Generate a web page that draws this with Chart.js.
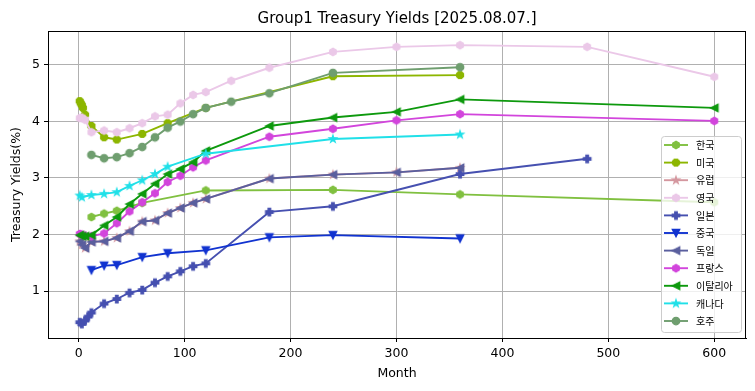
<!DOCTYPE html>
<html>
<head>
<meta charset="utf-8">
<script src="https://cdn.jsdelivr.net/npm/chart.js@4.4.1/dist/chart.umd.min.js"></script>
<style>
    html, body { margin: 0; padding: 0; background: #fff; }
    #chart { display: block; }
</style>
</head>
<body>
<canvas id="chart" width="755" height="391"></canvas>
<script>
// Data (months to maturity, yields in %)
const seriesNames = ["한국", "미국", "유럽", "영국", "일본", "중국", "독일", "프랑스", "이탈리아", "캐나다", "호주"];

const krMonths = [12, 24, 36, 60, 120, 240, 360, 600];
const krYields = [2.31, 2.37, 2.42, 2.56, 2.78, 2.79, 2.71, 2.57];

const usMonths = [1, 2, 3, 4, 6, 12, 24, 36, 60, 84, 120, 240, 360];
const usYields = [4.36, 4.32, 4.29, 4.24, 4.12, 3.92, 3.72, 3.68, 3.78, 3.97, 4.24, 4.80, 4.82];

const euMonths = [1, 3, 6, 12, 24, 36, 48, 60, 72, 84, 96, 108, 120, 180, 240, 300, 360];
const euYields = [1.88, 1.82, 1.76, 1.87, 1.88, 1.94, 2.06, 2.23, 2.25, 2.38, 2.47, 2.56, 2.63, 2.99, 3.06, 3.10, 3.18];

const ukMonths = [1, 3, 6, 12, 24, 36, 48, 60, 72, 84, 96, 108, 120, 144, 180, 240, 300, 360, 480, 600];
const ukYields = [4.06, 4.07, 4.03, 3.81, 3.84, 3.81, 3.88, 3.97, 4.09, 4.12, 4.32, 4.47, 4.52, 4.72, 4.95, 5.23, 5.32, 5.35, 5.32, 4.79];

const jpMonths = [1, 3, 6, 9, 12, 24, 36, 48, 60, 72, 84, 96, 108, 120, 180, 240, 360, 480];
const jpYields = [0.45, 0.42, 0.48, 0.55, 0.62, 0.78, 0.86, 0.97, 1.02, 1.15, 1.26, 1.35, 1.44, 1.49, 2.40, 2.50, 3.07, 3.34];

const cnMonths = [12, 24, 36, 60, 84, 120, 180, 240, 360];
const cnYields = [1.37, 1.45, 1.46, 1.60, 1.67, 1.72, 1.95, 1.99, 1.93];

const deMonths = [1, 3, 6, 12, 24, 36, 48, 60, 72, 84, 96, 108, 120, 180, 240, 300, 360];
const deYields = [1.88, 1.82, 1.76, 1.87, 1.88, 1.94, 2.06, 2.23, 2.25, 2.38, 2.47, 2.56, 2.63, 2.99, 3.06, 3.10, 3.18];

const frMonths = [1, 3, 6, 12, 24, 36, 48, 60, 72, 84, 96, 108, 120, 180, 240, 300, 360, 600];
const frYields = [2.01, 2.00, 1.98, 1.97, 2.02, 2.20, 2.41, 2.57, 2.73, 2.93, 3.04, 3.19, 3.31, 3.73, 3.87, 4.02, 4.13, 4.01];

const itMonths = [1, 3, 6, 12, 24, 36, 48, 60, 72, 84, 96, 108, 120, 180, 240, 300, 360, 600];
const itYields = [1.99, 1.97, 1.97, 1.99, 2.16, 2.31, 2.54, 2.72, 2.90, 3.07, 3.16, 3.28, 3.48, 3.92, 4.07, 4.17, 4.39, 4.24];

const caMonths = [1, 3, 12, 24, 36, 48, 60, 72, 84, 120, 240, 360];
const caYields = [2.69, 2.66, 2.70, 2.72, 2.75, 2.86, 2.96, 3.07, 3.20, 3.43, 3.69, 3.77];

const auMonths = [12, 24, 36, 48, 60, 72, 84, 96, 108, 120, 144, 180, 240, 360];
const auYields = [3.41, 3.35, 3.37, 3.44, 3.55, 3.72, 3.89, 4.00, 4.13, 4.24, 4.35, 4.50, 4.86, 4.96];

const xTicks = [0, 100, 200, 300, 400, 500, 600];
const yTicks = [1, 2, 3, 4, 5];

// Styles
const seriesMonths = [krMonths, usMonths, euMonths, ukMonths, jpMonths, cnMonths, deMonths, frMonths, itMonths, caMonths, auMonths];
const seriesYields = [krYields, usYields, euYields, ukYields, jpYields, cnYields, deYields, frYields, itYields, caYields, auYields];
const colors = ["#80c040", "#8db600", "#d4979f", "#ebc8e8", "#4650b0", "#1133d0", "#5a5f9e", "#d245dc", "#0d990d", "#20e0e8", "#6f9e6f"];
const markers = ["h", "8", "*", "h", "P", "v", "<", "h", "<", "*", "o"];

const MARKER_SIZE = 7.5;
const EDGE_WIDTH = 1.25;
const LINE_WIDTH = 1.9;
const FONT = "'DejaVu Sans', sans-serif";

function polygon(g, pts) {
    g.moveTo(pts[0][0], pts[0][1]);
    for (let i = 1; i < pts.length; i++) g.lineTo(pts[i][0], pts[i][1]);
    g.closePath();
}

// matplotlib-like filled markers as small canvases
function markerImage(shape, color) {
    const size = 14;
    const c = document.createElement("canvas");
    c.width = size;
    c.height = size;
    const g = c.getContext("2d");
    g.translate(size / 2, size / 2);
    const r = MARKER_SIZE / 2;
    g.beginPath();
    if (shape === "o") {
        g.arc(0, 0, r, 0, Math.PI * 2);
    } else if (shape === "h" || shape === "8") {
        const n = shape === "h" ? 6 : 8;
        const start = shape === "h" ? 90 : 90 + 22.5;
        const pts = [];
        for (let k = 0; k < n; k++) {
            const a = (start + k * 360 / n) * Math.PI / 180;
            pts.push([r * Math.cos(a), -r * Math.sin(a)]);
        }
        polygon(g, pts);
    } else if (shape === "*") {
        const pts = [];
        for (let k = 0; k < 10; k++) {
            const a = (90 + k * 36) * Math.PI / 180;
            const rr = k % 2 === 0 ? r : r * 0.381966;
            pts.push([rr * Math.cos(a), -rr * Math.sin(a)]);
        }
        polygon(g, pts);
    } else if (shape === "P") {
        const u = MARKER_SIZE / 6;
        polygon(g, [[-u, -3 * u], [u, -3 * u], [u, -u], [3 * u, -u], [3 * u, u], [u, u],
            [u, 3 * u], [-u, 3 * u], [-u, u], [-3 * u, u], [-3 * u, -u], [-u, -u]]);
    } else if (shape === "v") {
        polygon(g, [[0, r], [-r, -r], [r, -r]]);
    } else if (shape === "<") {
        polygon(g, [[-r, 0], [r, -r], [r, r]]);
    }
    g.fillStyle = color;
    g.fill();
    g.lineWidth = EDGE_WIDTH;
    g.strokeStyle = color;
    g.stroke();
    return c;
}

const markerImages = markers.map((m, i) => markerImage(m, colors[i]));

const datasets = seriesNames.map((name, i) => ({
    label: name,
    data: seriesMonths[i].map((m, j) => ({ x: m, y: seriesYields[i][j] })),
    showLine: true,
    borderColor: colors[i],
    backgroundColor: colors[i],
    borderWidth: LINE_WIDTH,
    pointStyle: markerImages[i],
    pointRadius: 5,
    pointHoverRadius: 5,
    tension: 0,
    order: seriesNames.length - i
}));

// Title, axis labels, frame and legend
const decorations = {
    id: "decorations",
    afterDatasetsDraw(chart) {
        const ctx = chart.ctx;
        const a = chart.chartArea;
        ctx.save();
        ctx.strokeStyle = "#000";
        ctx.lineWidth = 1;
        ctx.strokeRect(Math.round(a.left) + 0.5, Math.round(a.top) + 0.5,
            Math.round(a.right - a.left) - 1, Math.round(a.bottom - a.top));

        // legend box
        const lx = 661, ly = 136, lw = 80, lh = 196;
        ctx.beginPath();
        ctx.roundRect(lx + 0.5, ly + 0.5, lw, lh, 3);
        ctx.fillStyle = "rgba(255,255,255,0.8)";
        ctx.fill();
        ctx.strokeStyle = "#cccccc";
        ctx.stroke();

        ctx.font = "10px 'Noto Sans CJK KR', sans-serif";
        ctx.textBaseline = "middle";
        ctx.textAlign = "left";
        seriesNames.forEach((name, i) => {
            const y = 145 + i * 17.6;
            ctx.beginPath();
            ctx.moveTo(664, y);
            ctx.lineTo(688, y);
            ctx.strokeStyle = colors[i];
            ctx.lineWidth = LINE_WIDTH;
            ctx.stroke();
            const img = markerImages[i];
            ctx.drawImage(img, 676 - img.width / 2, y - img.height / 2);
            ctx.fillStyle = "#000";
            ctx.fillText(name, 696, y + 0.5);
        });

        // texts
        const cx = (a.left + a.right) / 2;
        ctx.fillStyle = "#000";
        ctx.textAlign = "center";
        ctx.font = "15px " + FONT;
        ctx.textBaseline = "alphabetic";
        ctx.fillText("Group1 Treasury Yields [2025.08.07.]", cx, 23);

        ctx.font = "12.5px " + FONT;
        ctx.textBaseline = "middle";
        ctx.fillText("Month", cx, 374);

        ctx.translate(17, (a.top + a.bottom) / 2);
        ctx.rotate(-Math.PI / 2);
        ctx.fillText("Treasury Yields(%)", 0, 0);
        ctx.restore();
    }
};

const gridOpts = { color: "#b0b0b0", lineWidth: 1, tickLength: 4, tickColor: "#000", tickWidth: 1 };
const tickFont = { family: FONT, size: 12.5 };

new Chart(document.getElementById("chart").getContext("2d"), {
    type: "scatter",
    data: { datasets: datasets },
    options: {
        responsive: false,
        animation: false,
        devicePixelRatio: 1,
        layout: { padding: { top: 31, right: 9, left: 0, bottom: 0 } },
        plugins: {
            legend: { display: false },
            tooltip: { enabled: false }
        },
        scales: {
            x: {
                type: "linear",
                min: -28.95,
                max: 629.95,
                afterBuildTicks: s => { s.ticks = xTicks.map(v => ({ value: v })); },
                afterFit: s => { s.height = 53; },
                grid: gridOpts,
                border: { display: true, color: "#000", width: 1 },
                ticks: { font: tickFont, color: "#000", padding: 4, maxRotation: 0 }
            },
            y: {
                type: "linear",
                min: 0.17,
                max: 5.6,
                afterBuildTicks: s => { s.ticks = yTicks.map(v => ({ value: v })); },
                afterFit: s => { s.width = 48; },
                grid: gridOpts,
                border: { display: true, color: "#000", width: 1 },
                ticks: { font: tickFont, color: "#000", padding: 4 }
            }
        }
    },
    plugins: [decorations]
});
</script>
</body>
</html>
